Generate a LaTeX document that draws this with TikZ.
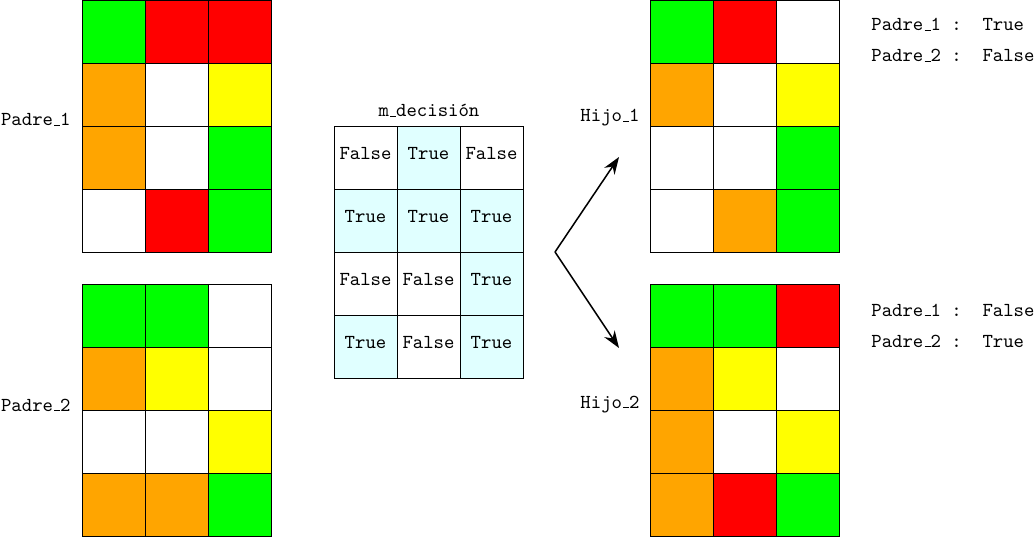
\documentclass[tikz,border=0pt]{standalone}
\usepackage{tikz}
\usetikzlibrary{arrows.meta,positioning}
\definecolor{cgreen}{HTML}{00FF00}
\definecolor{cred}{HTML}{FF0000}
\definecolor{corange}{HTML}{FFA500}
\definecolor{cyellow}{HTML}{FFFF00}
\definecolor{cwhite}{HTML}{FFFFFF}
\definecolor{cellTrue}{HTML}{E0FFFF}
\colorlet{cellFalse}{white}
\newcommand{\ubar}{\leavevmode\kern.06em\vbox{\hrule width.3em}}
\newcommand{\ttsize}{\fontsize{10.4pt}{12pt}\selectfont\ttfamily}
\tikzset{>={Stealth[length=9pt,width=6.5pt]}}
\tikzset{
    cell/.style={rectangle,draw,minimum width=33.075pt,minimum height=33.075pt,inner sep=0pt,outer sep=0pt},
    dcell/.style={cell,text height=6.2pt,text depth=4.2pt},
    label/.style={inner sep=0pt,anchor=base east},
    note/.style={inner sep=0pt,anchor=base west},
    directed/.style={arrows={->},line width=0.8pt},
}
% name, left x, top y, rows of colours
\newcommand{\colgrid}[4]{%
  \foreach \row [count=\r] in {#4}
    \foreach \c [count=\k] in \row
      \node[cell,fill=c\c] (#1-\r-\k) at ({#2+63*\k-31.5},{#3+63*\r-31.5}) {};
}
\begin{document}
\begin{tikzpicture}[x=0.525pt,y=-0.525pt,font=\ttsize]
	\useasboundingbox (0,0) rectangle (1036,538);

	\colgrid{pa}{82}{0}{{green,red,red},{orange,white,yellow},{orange,white,green},{white,red,green}}
	\colgrid{pb}{82}{284}{{green,green,white},{orange,yellow,white},{white,white,yellow},{orange,orange,green}}
	\colgrid{ha}{650}{0}{{green,red,white},{orange,white,yellow},{white,white,green},{white,orange,green}}
	\colgrid{hb}{650}{284}{{green,green,red},{orange,yellow,white},{orange,white,yellow},{orange,red,green}}

	\foreach \row [count=\r] in {{False,True,False},{True,True,True},{False,False,True},{True,False,True}}
		\foreach \v [count=\k] in \row
			\node[dcell,fill=cell\v] (md-\r-\k) at ({334+63*\k-31.5},{126+63*\r-31.5}) {\v};

	\node[inner sep=0pt,anchor=base] (mdtitle) at (429,117) {m\ubar decisión};

	\node[label] (padre1) at (71,126) {Padre\ubar 1};
	\node[label] (padre2) at (71,411) {Padre\ubar 2};
	\node[label] (hijo1) at (640,122) {Hijo\ubar 1};
	\node[label] (hijo2) at (640,408) {Hijo\ubar 2};

	\node[note] (n1a) at (871,31) {Padre\ubar 1 :\ \ True};
	\node[note] (n1b) at (871,62) {Padre\ubar 2 :\ \ False};
	\node[note] (n2a) at (871,316) {Padre\ubar 1 :\ \ False};
	\node[note] (n2b) at (871,347) {Padre\ubar 2 :\ \ True};

	\coordinate (fork) at (555,252);
	\coordinate (tip1) at (619,157);
	\coordinate (tip2) at (619,348);
	\draw[directed] (fork) -- (tip1);
	\draw[directed] (fork) -- (tip2);
\end{tikzpicture}
\end{document}
